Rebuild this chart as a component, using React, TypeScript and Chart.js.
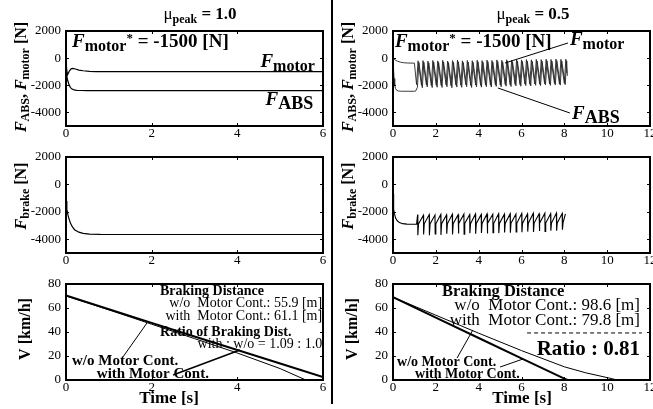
import React, { useEffect, useRef } from 'react';
import { Chart, registerables } from 'chart.js';
Chart.register(...registerables);

const SERIF = '"Liberation Serif", "Times New Roman", serif';
const fnt = (size: number, weight = 'normal', style = 'normal') => `${style} ${weight} ${size}px ${SERIF}`;

// ---------- tick labels ----------
const F_Y_TICKS = [-4000, -2000, 0, 2000];
const V_Y_TICKS = [0, 20, 40, 60, 80];
const X_TICKS_L = [0, 2, 4, 6];
const X_TICKS_R = [0, 2, 4, 6, 8, 10, 12];

// ---------- mu_peak = 1.0 (left column) ----------
const fMotorL_t = [0, 0.01, 0.03, 0.05, 0.08, 0.12, 0.16, 0.22, 0.3, 0.4, 0.55, 0.7, 1.0, 6];
const fMotorL_v = [0, -600, -1250, -1150, -930, -790, -750, -800, -880, -930, -970, -990, -1000, -1000];
const fAbsL_t = [0, 0.02, 0.04, 0.07, 0.1, 0.14, 0.19, 0.25, 0.35, 0.5, 6];
const fAbsL_v = [-1000, -1350, -1650, -1950, -2150, -2280, -2340, -2370, -2385, -2390, -2390];
const fBrakeL_t = [0, 0.02, 0.05, 0.1, 0.15, 0.2, 0.3, 0.4, 0.55, 0.8, 6];
const fBrakeL_v = [-1200, -1800, -2300, -2800, -3100, -3300, -3480, -3570, -3620, -3645, -3650];
const vWithL_t = [0, 1, 2, 3, 4, 5, 6, 6.2];
const vWithL_v = [70.5, 59, 47.6, 36.3, 25, 13.7, 2.4, 0.2];
const vWoL_t = [0, 1, 2, 3, 4, 5, 5.6];
const vWoL_v = [70, 58.5, 46.5, 34.5, 22.5, 9.5, 0];

// ---------- mu_peak = 0.5 (right column) ----------
const fMotorR_t = [0, 0.05, 0.1, 0.2, 0.35, 0.5, 0.7, 1.0,
  1.10, 1.17, 1.33, 1.40, 1.56, 1.63, 1.79, 1.86, 2.02, 2.09, 2.25, 2.32, 2.48, 2.55, 2.71, 2.78,
  2.94, 3.01, 3.17, 3.24, 3.40, 3.47, 3.63, 3.70, 3.86, 3.93, 4.09, 4.16, 4.32, 4.39, 4.55, 4.62,
  4.78, 4.85, 5.01, 5.08, 5.24, 5.31, 5.47, 5.54, 5.70, 5.77, 5.93, 6.00, 6.16, 6.23, 6.39, 6.46,
  6.62, 6.69, 6.85, 6.92, 7.08, 7.15, 7.31, 7.38, 7.54, 7.61, 7.77, 7.84, 8.00, 8.07, 8.12];
const fMotorR_v = [0, -60, -130, -220, -300, -340, -360, -370,
  -1950, -200, -2000, -180, -1980, -220, -2020, -170, -1990, -200, -2010, -160, -1970, -210, -2030, -180,
  -1990, -150, -2000, -200, -1960, -170, -2010, -190, -1980, -150, -2000, -180, -1970, -140, -1990, -170,
  -1950, -130, -1980, -160, -1940, -120, -1960, -150, -1930, -110, -1950, -130, -1910, -100, -1930, -120,
  -1900, -90, -1920, -110, -1880, -80, -1900, -100, -1870, -70, -1890, -90, -1860, -80, -1100];
const fAbsR_t = [0, 0.02, 0.05, 0.08, 0.12, 0.18, 0.25, 0.4, 1.0, 1.05,
  1.14, 1.21, 1.37, 1.44, 1.60, 1.67, 1.83, 1.90, 2.06, 2.13, 2.29, 2.36, 2.52, 2.59, 2.75, 2.82,
  2.98, 3.05, 3.21, 3.28, 3.44, 3.51, 3.67, 3.74, 3.90, 3.97, 4.13, 4.20, 4.36, 4.43, 4.59, 4.66,
  4.82, 4.89, 5.05, 5.12, 5.28, 5.35, 5.51, 5.58, 5.74, 5.81, 5.97, 6.04, 6.20, 6.27, 6.43, 6.50,
  6.66, 6.73, 6.89, 6.96, 7.12, 7.19, 7.35, 7.42, 7.58, 7.65, 7.81, 7.88, 8.04, 8.11, 8.14];
const fAbsR_v = [0, -700, -1500, -2000, -2250, -2380, -2420, -2440, -2440, -2440,
  -2150, -320, -2180, -300, -2120, -340, -2170, -290, -2140, -320, -2160, -280, -2110, -330, -2180, -300,
  -2130, -270, -2150, -320, -2100, -290, -2160, -310, -2120, -270, -2140, -300, -2100, -260, -2130, -290,
  -2080, -250, -2110, -280, -2060, -240, -2090, -270, -2040, -230, -2070, -250, -2020, -220, -2050, -240,
  -2000, -210, -2030, -230, -1980, -200, -2010, -220, -1970, -190, -1990, -210, -1950, -200, -1300];
const fBrakeR_t = [0, 0.02, 0.04, 0.07, 0.12, 0.2, 0.3, 0.45, 0.65, 1.1,
  1.15, 1.16, 1.19, 1.42, 1.43, 1.46, 1.69, 1.70, 1.73, 1.96, 1.97, 2.00, 2.23, 2.24, 2.27,
  2.50, 2.51, 2.54, 2.77, 2.78, 2.81, 3.04, 3.05, 3.08, 3.31, 3.32, 3.35, 3.58, 3.59, 3.62,
  3.85, 3.86, 3.89, 4.12, 4.13, 4.16, 4.39, 4.40, 4.43, 4.66, 4.67, 4.70, 4.93, 4.94, 4.97,
  5.20, 5.21, 5.24, 5.47, 5.48, 5.51, 5.74, 5.75, 5.78, 6.01, 6.02, 6.05, 6.28, 6.29, 6.32,
  6.55, 6.56, 6.59, 6.82, 6.83, 6.86, 7.09, 7.10, 7.13, 7.36, 7.37, 7.40, 7.63, 7.64, 7.67,
  7.90, 7.91, 7.94, 8.05];
const fBrakeR_v = [-700, -1300, -1800, -2150, -2450, -2650, -2780, -2860, -2895, -2900,
  -2200, -3700, -2880, -2250, -3650, -2870, -2200, -3700, -2880, -2230, -3620, -2870, -2190, -3680, -2860,
  -2220, -3600, -2870, -2180, -3650, -2860, -2210, -3580, -2860, -2170, -3630, -2850, -2200, -3560, -2860,
  -2160, -3600, -2850, -2190, -3540, -2850, -2150, -3580, -2840, -2180, -3520, -2850, -2140, -3550, -2840,
  -2170, -3500, -2840, -2130, -3520, -2830, -2160, -3470, -2840, -2120, -3490, -2830, -2150, -3440, -2830,
  -2110, -3460, -2820, -2140, -3400, -2830, -2100, -3420, -2820, -2130, -3370, -2820, -2090, -3380, -2810,
  -2110, -3300, -2800, -2150];
const vWithR_t = [0, 2, 4, 6, 8, 8.15];
const vWithR_v = [69, 52, 35, 18, 1.2, 0];
const vWoR_t = [0, 2, 4, 6, 8, 9, 10, 10.4];
const vWoR_v = [69, 54, 39, 24.5, 11, 6, 2, 0.3];

// ---------- texts ----------
const TITLE_L = '1.0';
const TITLE_R = '0.5';
const DIST_L = ['55.9', '61.1'];
const DIST_R = ['98.6', '79.8'];
const RATIO_L = 'with : w/o = 1.09 : 1.0';
const RATIO_R = 'Ratio : 0.81';

type Seg = [string, string, number];
function rich(ctx: CanvasRenderingContext2D, x: number, y: number, segs: Seg[], align = 'left') {
  let w = 0;
  for (const s of segs) { ctx.font = s[1]; w += ctx.measureText(s[0]).width; }
  let cx = align === 'left' ? x : align === 'right' ? x - w : x - w / 2;
  ctx.textAlign = 'left';
  ctx.textBaseline = 'alphabetic';
  for (const s of segs) { ctx.font = s[1]; ctx.fillText(s[0], cx, y + s[2]); cx += ctx.measureText(s[0]).width; }
}
function rot(ctx: CanvasRenderingContext2D, x: number, y: number, segs: Seg[]) {
  ctx.save(); ctx.translate(x, y); ctx.rotate(-Math.PI / 2); rich(ctx, 0, 0, segs, 'center'); ctx.restore();
}
function seg(ctx: CanvasRenderingContext2D, x1: number, y1: number, x2: number, y2: number, lw = 1) {
  ctx.save(); ctx.lineWidth = lw; ctx.beginPath(); ctx.moveTo(x1, y1); ctx.lineTo(x2, y2); ctx.stroke(); ctx.restore();
}
const muTitle = (v: string): Seg[] => [['μ', fnt(17), 0], ['peak', fnt(12, 'bold'), 4], [' = ' + v, fnt(17, 'bold'), 0]];
const fLabel = (sub: string, small = 16): Seg[] => [['F', fnt(19, 'bold', 'italic'), 0], [sub, fnt(small, 'bold'), 4]];
const fStar: Seg[] = [['F', fnt(19, 'bold', 'italic'), 0], ['motor', fnt(16, 'bold'), 4], ['*', fnt(13, 'bold'), -5], [' = -1500 [N]', fnt(19, 'bold'), 0]];
const yTitle1: Seg[] = [['F', fnt(16, 'bold', 'italic'), 0], ['ABS', fnt(12, 'bold'), 3], [', ', fnt(16, 'bold'), 0], ['F', fnt(16, 'bold', 'italic'), 0], ['motor', fnt(12, 'bold'), 3], [' [N]', fnt(16, 'bold'), 0]];
const yTitle2: Seg[] = [['F', fnt(16, 'bold', 'italic'), 0], ['brake', fnt(12, 'bold'), 3], [' [N]', fnt(16, 'bold'), 0]];
const yTitle3: Seg[] = [['V [km/h]', fnt(16, 'bold'), 0]];
const timeTitle: Seg[] = [['Time [s]', fnt(17, 'bold'), 0]];

type Fn = (v: number) => number;
interface Spec {
  xMax: number; yMin: number; yMax: number; xTicks: number[]; yTicks: number[];
  pad: { left: number; right: number; top: number; bottom: number };
  sets: { t: number[]; v: number[]; w: number; c?: string }[];
  draw: (ctx: CanvasRenderingContext2D, X: Fn, Y: Fn) => void;
}

const SPECS: Spec[] = [
  {
    xMax: 6, yMin: -5000, yMax: 2000, xTicks: X_TICKS_L, yTicks: F_Y_TICKS,
    pad: { left: 26, right: 330, top: 31, bottom: 263 },
    sets: [{ t: fMotorL_t, v: fMotorL_v, w: 1.2 }, { t: fAbsL_t, v: fAbsL_v, w: 1.2 }],
    draw: (ctx, X, Y) => {
      rich(ctx, 200, 19, muTitle(TITLE_L), 'center');
      rot(ctx, 26, 77, yTitle1);
      rich(ctx, X(0.14), Y(820), fStar);
      rich(ctx, X(5.81), Y(-653), fLabel('motor'), 'right');
      rich(ctx, X(5.77), Y(-3453), fLabel('ABS', 18), 'right');
    },
  },
  {
    xMax: 12, yMin: -5000, yMax: 2000, xTicks: X_TICKS_R, yTicks: F_Y_TICKS,
    pad: { left: 353, right: 3, top: 31, bottom: 263 },
    sets: [{ t: fMotorR_t, v: fMotorR_v, w: 0.9, c: '#262626' }, { t: fAbsR_t, v: fAbsR_v, w: 0.9, c: '#262626' }],
    draw: (ctx, X, Y) => {
      rich(ctx, 533, 19, muTitle(TITLE_R), 'center');
      rot(ctx, 353, 77, yTitle1);
      rich(ctx, X(0.09), Y(820), fStar);
      rich(ctx, X(8.26), Y(968), fLabel('motor'));
      rich(ctx, X(8.36), Y(-4484), fLabel('ABS', 18));
      seg(ctx, X(5.23), Y(-358), X(8.17), Y(1116));
      seg(ctx, X(4.9), Y(-2200), X(8.26), Y(-4043));
    },
  },
  {
    xMax: 6, yMin: -5000, yMax: 2000, xTicks: X_TICKS_L, yTicks: F_Y_TICKS,
    pad: { left: 26, right: 330, top: 157, bottom: 136 },
    sets: [{ t: fBrakeL_t, v: fBrakeL_v, w: 1.2 }],
    draw: (ctx) => { rot(ctx, 26, 196, yTitle2); },
  },
  {
    xMax: 12, yMin: -5000, yMax: 2000, xTicks: X_TICKS_R, yTicks: F_Y_TICKS,
    pad: { left: 353, right: 3, top: 157, bottom: 136 },
    sets: [{ t: fBrakeR_t, v: fBrakeR_v, w: 1.1 }],
    draw: (ctx) => { rot(ctx, 353, 196, yTitle2); },
  },
  {
    xMax: 6, yMin: 0, yMax: 80, xTicks: X_TICKS_L, yTicks: V_Y_TICKS,
    pad: { left: 26, right: 330, top: 284, bottom: 9 },
    sets: [{ t: vWithL_t, v: vWithL_v, w: 2 }, { t: vWoL_t, v: vWoL_v, w: 1 }],
    draw: (ctx, X, Y) => {
      rot(ctx, 30, 329, yTitle3);
      rich(ctx, 169, 403, timeTitle, 'center');
      rich(ctx, X(2.195), Y(70.8), [['Braking Distance', fnt(14, 'bold'), 0]]);
      rich(ctx, X(5.98), Y(60.8), [['w/o  Motor Cont.: ' + DIST_L[0] + ' [m]', fnt(14), 0]], 'right');
      rich(ctx, X(5.98), Y(50), [['with  Motor Cont.: ' + DIST_L[1] + ' [m]', fnt(14), 0]], 'right');
      rich(ctx, X(2.195), Y(36.7), [['Ratio of Braking Dist.', fnt(14, 'bold'), 0]]);
      rich(ctx, X(5.98), Y(26.7), [[RATIO_L, fnt(14), 0]], 'right');
      rich(ctx, X(0.14), Y(12.5), [['w/o Motor Cont.', fnt(15, 'bold'), 0]]);
      rich(ctx, X(0.72), Y(1.7), [['with Motor Cont.', fnt(15, 'bold'), 0]]);
      seg(ctx, X(1.33), Y(19.2), X(1.89), Y(47.5));
      seg(ctx, X(2.5), Y(4.2), X(4.06), Y(25), 1.5);
    },
  },
  {
    xMax: 12, yMin: 0, yMax: 80, xTicks: X_TICKS_R, yTicks: V_Y_TICKS,
    pad: { left: 353, right: 3, top: 284, bottom: 9 },
    sets: [{ t: vWithR_t, v: vWithR_v, w: 2 }, { t: vWoR_t, v: vWoR_v, w: 1 }],
    draw: (ctx, X, Y) => {
      rot(ctx, 357, 329, yTitle3);
      rich(ctx, 522, 403, timeTitle, 'center');
      rich(ctx, X(2.29), Y(70), [['Braking Distance', fnt(16.5, 'bold'), 0]]);
      rich(ctx, X(11.53), Y(58.3), [['w/o  Motor Cont.: ' + DIST_R[0] + ' [m]', fnt(17), 0]], 'right');
      rich(ctx, X(11.53), Y(45.8), [['with  Motor Cont.: ' + DIST_R[1] + ' [m]', fnt(17), 0]], 'right');
      ctx.save(); ctx.setLineDash([4, 3]); seg(ctx, X(6.26), Y(39.2), X(11.62), Y(39.2)); ctx.restore();
      rich(ctx, X(11.53), Y(20.8), [[RATIO_R, fnt(21, 'bold'), 0]], 'right');
      rich(ctx, X(0.19), Y(11.7), [['w/o Motor Cont.', fnt(14, 'bold'), 0]]);
      rich(ctx, X(1.03), Y(1.7), [['with Motor Cont.', fnt(14, 'bold'), 0]]);
      seg(ctx, X(2.99), Y(18.3), X(3.73), Y(41.7));
      seg(ctx, X(5.0), Y(10.8), X(6.07), Y(17.5));
    },
  },
];

function buildChart(canvas: HTMLCanvasElement, spec: Spec) {
  const tickFont = { family: SERIF, size: 13 };
  const frame = {
    id: 'frame',
    afterDraw(chart: any) {
      const ctx = chart.ctx as CanvasRenderingContext2D;
      const a = chart.chartArea;
      const xs = chart.scales.x, ys = chart.scales.y;
      ctx.save();
      ctx.strokeStyle = '#000';
      ctx.fillStyle = '#000';
      ctx.lineWidth = 1;
      ctx.beginPath();
      for (const v of spec.xTicks) {
        const p = Math.round(xs.getPixelForValue(v)) + 0.5;
        if (p <= a.left + 2 || p >= a.right - 2) continue;
        ctx.moveTo(p, a.bottom); ctx.lineTo(p, a.bottom - 3);
        ctx.moveTo(p, a.top); ctx.lineTo(p, a.top + 3);
      }
      for (const v of spec.yTicks) {
        const p = Math.round(ys.getPixelForValue(v)) + 0.5;
        if (p <= a.top + 2 || p >= a.bottom - 2) continue;
        ctx.moveTo(a.left, p); ctx.lineTo(a.left + 3, p);
        ctx.moveTo(a.right, p); ctx.lineTo(a.right - 3, p);
      }
      ctx.stroke();
      ctx.lineWidth = 2;
      ctx.strokeRect(a.left, a.top, a.right - a.left, a.bottom - a.top);
      spec.draw(ctx, (v) => xs.getPixelForValue(v), (v) => ys.getPixelForValue(v));
      ctx.restore();
    },
  };
  return new Chart(canvas, {
    type: 'line',
    data: {
      datasets: spec.sets.map((s) => ({
        data: s.t.map((t, i) => ({ x: t, y: s.v[i] })),
        borderColor: s.c || '#000',
        borderWidth: s.w,
        pointRadius: 0,
        fill: false,
        tension: 0,
      })),
    },
    options: {
      responsive: false,
      maintainAspectRatio: false,
      animation: false,
      events: [],
      layout: { padding: spec.pad },
      plugins: { legend: { display: false }, tooltip: { enabled: false }, title: { display: false } },
      scales: {
        x: {
          type: 'linear', min: 0, max: spec.xMax,
          grid: { display: false, drawTicks: false },
          border: { display: false },
          ticks: { font: tickFont, color: '#000', padding: 0, maxRotation: 0, minRotation: 0, autoSkip: false, callback: (v: any) => String(v) },
          afterBuildTicks: (s: any) => { s.ticks = spec.xTicks.map((v) => ({ value: v })); },
          afterFit: (s: any) => { s.height = 20; s.paddingLeft = 0; s.paddingRight = 0; },
        },
        y: {
          type: 'linear', min: spec.yMin, max: spec.yMax,
          grid: { display: false, drawTicks: false },
          border: { display: false },
          ticks: { font: tickFont, color: '#000', padding: 5, autoSkip: false, callback: (v: any) => String(v) },
          afterBuildTicks: (s: any) => { s.ticks = spec.yTicks.map((v) => ({ value: v })); },
          afterFit: (s: any) => { s.width = 40; s.paddingTop = 0; s.paddingBottom = 0; },
        },
      },
    } as any,
    plugins: [frame],
  });
}

export default function App() {
  const refs = useRef<(HTMLCanvasElement | null)[]>([]);
  useEffect(() => {
    const charts = SPECS.map((s, i) => buildChart(refs.current[i] as HTMLCanvasElement, s));
    return () => charts.forEach((c) => c.destroy());
  }, []);
  return (
    <div style={{ position: 'fixed', left: 0, top: 0, width: 653, height: 409, background: '#fff', overflow: 'hidden' }}>
      {SPECS.map((_, i) => (
        <canvas key={i} ref={(el) => { refs.current[i] = el; }} width={653} height={409}
          style={{ position: 'absolute', left: 0, top: 0, width: 653, height: 409 }} />
      ))}
      <div style={{ position: 'absolute', left: 331, top: 0, width: 1.5, height: 404, background: '#000' }} />
    </div>
  );
}
